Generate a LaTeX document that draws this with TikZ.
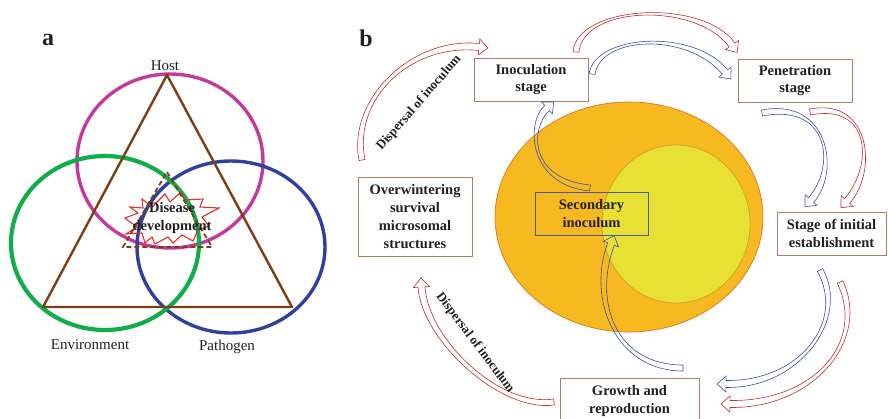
\documentclass[tikz,border=0pt]{standalone}
\usepackage{fontspec}
\setmainfont{Liberation Serif}
\usetikzlibrary{arrows.meta,calc}
\definecolor{hostc}{HTML}{C43A9A}
\definecolor{envc}{HTML}{12AD4B}
\definecolor{pathc}{HTML}{2E41A0}
\definecolor{tric}{HTML}{7C3E12}
\definecolor{burstc}{HTML}{E0302A}
\definecolor{arrred}{HTML}{C8282A}
\definecolor{arrblue}{HTML}{3A4DB0}
\definecolor{boxc}{HTML}{B07D5E}
\definecolor{orangef}{HTML}{F6B920}
\definecolor{oranged}{HTML}{D9762A}
\definecolor{yellowf}{HTML}{E8E032}
\definecolor{yellowd}{HTML}{C9A030}
\definecolor{secc}{HTML}{4A5AA8}
\definecolor{txtc}{HTML}{231F20}
\def\tailw{3pt}
\def\headbw{3.5pt}
\def\headw{8pt}
\def\headl{9pt}
\newcommand{\hollowarrow}[5]{%
  \coordinate (hP0) at (#2); \coordinate (hP1) at (#3);
  \coordinate (hP2) at (#4); \coordinate (hP3) at (#5);
  \coordinate (hA0) at ($(hP0)!\tailw!90:(hP1)$);
  \coordinate (hB0) at ($(hP0)!\tailw!-90:(hP1)$);
  \coordinate (hA3) at ($(hP3)!\headbw!-90:(hP2)$);
  \coordinate (hB3) at ($(hP3)!\headbw!90:(hP2)$);
  \coordinate (hA1) at ($(hP1)+(hA0)-(hP0)$);
  \coordinate (hB1) at ($(hP1)+(hB0)-(hP0)$);
  \coordinate (hA2) at ($(hP2)+(hA3)-(hP3)$);
  \coordinate (hB2) at ($(hP2)+(hB3)-(hP3)$);
  \coordinate (hHA) at ($(hP3)!\headw!-90:(hP2)$);
  \coordinate (hHB) at ($(hP3)!\headw!90:(hP2)$);
  \coordinate (hT) at ($(hP3)!-\headl!(hP2)$);
  \draw[#1, hollowline] (hA0) .. controls (hA1) and (hA2) .. (hA3) -- (hHA) -- (hT) -- (hHB) -- (hB3) .. controls (hB2) and (hB1) .. (hB0) -- cycle;
}
\begin{document}
\begin{tikzpicture}[x=1pt,y=-1pt,
  stagebox/.style={draw=boxc, line width=0.9pt, fill=white, align=center, text=txtc,
    font=\fontsize{14.5}{17.5}\selectfont\bfseries, inner sep=0pt},
  lbl/.style={font=\fontsize{15}{18}\selectfont, text=txtc},
  panel/.style={font=\fontsize{24}{28}\selectfont\bfseries, text=txtc},
  hollowline/.style={line width=0.6pt, line join=miter},
  disp/.style={font=\fontsize{13}{15}\selectfont\bfseries, text=txtc},
]
\useasboundingbox (0,0) rectangle (888,418);

% ---------- panel a ----------
\node[panel] (pa) at (48,40) {a};
\draw[hostc, line width=3.4pt] (170,161) ellipse [x radius=93pt, y radius=87pt];
\draw[pathc, line width=3.4pt] (231,247) ellipse [x radius=94pt, y radius=86pt];
\draw[envc, line width=4.2pt] (105,243) ellipse [x radius=94pt, y radius=87pt];
\draw[tric, line width=2.4pt, line join=round] (167,75) -- (292,307) -- (43,307) -- cycle;
% starburst
\draw[burstc, line width=1.1pt, line join=miter]
  (142,199) -- (152,207) -- (165,194) -- (170,202) -- (181,192) -- (185,200) -- (203,199)
  -- (200,207) -- (219,208) -- (202,217) -- (209,226) -- (198,230) -- (193,241)
  -- (182,235) -- (173,243) -- (168,237) -- (155,244) -- (152,237) -- (145,243)
  -- (142,233) -- (126,234) -- (137,227) -- (125,218) -- (138,213) -- (130,207)
  -- (143,208) -- cycle;
\draw[tric, line width=1.8pt, dash pattern=on 5pt off 3pt] (167,172) -- (212,247) -- (123,247) -- cycle;
\node[align=center, font=\fontsize{14.5}{18}\selectfont\bfseries, text=txtc] (dis) at (172,218) {Disease\\development};
\node[lbl] (host) at (165,66) {Host};
\node[lbl] (env) at (90,345) {Environment};
\node[lbl] (path) at (227,347) {Pathogen};

% ---------- panel b ----------
\node[panel] (pb) at (366,38) {b};
\draw[oranged, fill=orangef, line width=0.7pt] (629,217) ellipse [x radius=134pt, y radius=115pt];
\draw[yellowd, fill=yellowf, line width=0.7pt] (676,224) ellipse [x radius=74pt, y radius=79pt];

\node[stagebox, minimum width=114pt, minimum height=43pt] (inoc) at (531,79.5) {Inoculation\\stage};
\node[stagebox, minimum width=114pt, minimum height=43pt] (pene) at (795,80.5) {Penetration\\stage};
\node[stagebox, minimum width=109pt, minimum height=43pt] (estab) at (831.5,233.5) {Stage of initial\\establishment};
\node[stagebox, minimum width=139pt, minimum height=46pt] (growth) at (629.5,401) {Growth and\\reproduction};
\node[stagebox, minimum width=114pt, minimum height=79pt, font=\fontsize{14.5}{18}\selectfont\bfseries] (over) at (415,216.5) {Overwintering\\survival\\microsomal\\structures};
\node[draw=secc, line width=0.7pt, align=center, text=txtc, font=\fontsize{14.5}{17.5}\selectfont\bfseries,
  minimum width=113pt, minimum height=43pt, inner sep=0pt] (sec) at (591.5,213.5) {Secondary\\inoculum};

% arrows
\hollowarrow{arrred}{362,160}{350,100}{410,40}{479,47}
\hollowarrow{arrred}{576,52}{580,5}{700,0}{732,45}
\hollowarrow{arrblue}{592,74}{598,35}{690,30}{725,72}
\hollowarrow{arrblue}{762,113}{830,100}{838,170}{811,200}
\hollowarrow{arrred}{810,112}{872,100}{875,170}{847,201}
\hollowarrow{arrblue}{820,270}{848,320}{800,385}{726,384}
\hollowarrow{arrred}{840,282}{868,340}{815,405}{730,404}
\hollowarrow{arrblue}{683,368}{615,368}{590,300}{611,244}
\hollowarrow{arrblue}{590,188}{528,182}{528,125}{547,108}
\hollowarrow{arrred}{554,402}{500,410}{425,340}{421.5,287}

\node[disp, rotate=49] (d1) at (419,103) {Dispersal of inoculum};
\node[disp, rotate=-53] (d2) at (475,343) {Dispersal of inoculum};
\end{tikzpicture}
\end{document}
